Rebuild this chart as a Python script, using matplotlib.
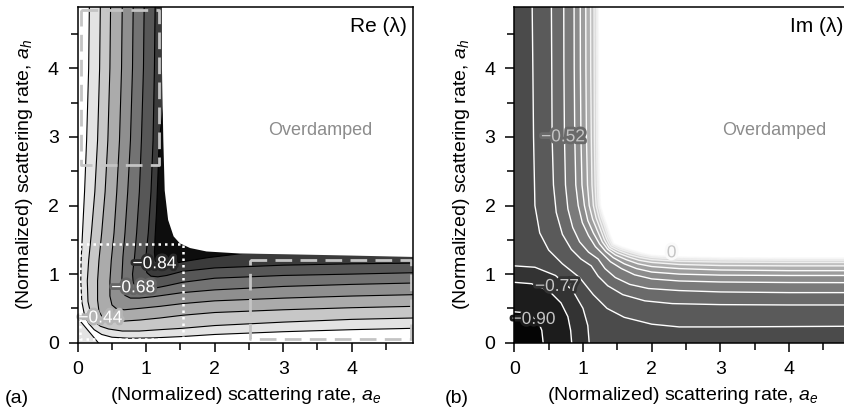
import matplotlib
matplotlib.use("Agg")
import matplotlib.pyplot as plt
import matplotlib.patheffects as pe

plt.rcParams['font.family'] = ['Liberation Sans', 'DejaVu Sans']
plt.rcParams['mathtext.fontset'] = 'custom'
plt.rcParams['mathtext.it'] = 'Liberation Sans:italic'
plt.rcParams['mathtext.rm'] = 'Liberation Sans'

XMAX = 4.9
YMAX = 4.9

# ---------------- Panel (a): Re(lambda) contour lines, points (a_e, a_h) ----------------
# levels of the lines below: -0.28, -0.36, -0.44, -0.52, -0.60, -0.68, -0.76, -0.84
re_band_colors = ['#ffffff', '#e3e3e3', '#c7c7c7', '#ababab', '#8f8f8f', '#737373',
                  '#575757', '#3b3b3b', '#0d0d0d']
re_corner_x = [0.0, 0.10, 0.20, 0.30]
re_corner_y = [0.36, 0.24, 0.12, 0.0]
re_lines = [
    ([0.17, 0.16, 0.13, 0.10, 0.07, 0.05, 0.045, 0.06, 0.10, 0.16, 0.24, 0.35, 0.50, 0.75, 1.10, 1.53, 2.0, 3.0, 4.0, 4.9],
     [4.9, 4.0, 2.95, 2.2, 1.6, 1.2, 0.9, 0.6, 0.40, 0.28, 0.19, 0.12, 0.08, 0.065, 0.07, 0.09, 0.12, 0.16, 0.19, 0.21]),
    ([0.33, 0.32, 0.29, 0.25, 0.20, 0.16, 0.14, 0.15, 0.19, 0.25, 0.33, 0.45, 0.65, 0.90, 1.20, 1.53, 2.0, 3.0, 4.0, 4.9],
     [4.9, 4.0, 2.95, 2.2, 1.6, 1.2, 0.9, 0.6, 0.42, 0.31, 0.24, 0.20, 0.17, 0.17, 0.19, 0.21, 0.25, 0.30, 0.34, 0.36]),
    ([0.48, 0.47, 0.44, 0.40, 0.35, 0.31, 0.29, 0.29, 0.31, 0.36, 0.45, 0.60, 0.90, 1.20, 1.53, 2.0, 3.0, 4.0, 4.9],
     [4.9, 4.0, 2.95, 2.2, 1.6, 1.2, 0.9, 0.62, 0.46, 0.37, 0.33, 0.31, 0.33, 0.36, 0.40, 0.44, 0.48, 0.51, 0.53]),
    ([0.65, 0.64, 0.61, 0.57, 0.53, 0.49, 0.47, 0.47, 0.50, 0.56, 0.68, 0.90, 1.20, 1.53, 2.0, 3.0, 4.0, 4.9],
     [4.9, 4.0, 2.95, 2.2, 1.6, 1.2, 0.9, 0.68, 0.55, 0.50, 0.48, 0.50, 0.53, 0.57, 0.61, 0.65, 0.68, 0.70]),
    ([0.81, 0.80, 0.77, 0.73, 0.69, 0.66, 0.645, 0.65, 0.69, 0.77, 0.90, 1.10, 1.53, 2.0, 3.0, 4.0, 4.9],
     [4.9, 4.0, 2.95, 2.2, 1.6, 1.25, 0.95, 0.78, 0.69, 0.65, 0.65, 0.67, 0.73, 0.77, 0.82, 0.85, 0.87]),
    ([0.97, 0.96, 0.93, 0.90, 0.86, 0.83, 0.80, 0.81, 0.85, 0.93, 1.10, 1.30, 1.53, 2.0, 3.0, 4.0, 4.9],
     [4.9, 4.0, 2.95, 2.2, 1.6, 1.25, 1.0, 0.88, 0.81, 0.78, 0.79, 0.83, 0.88, 0.94, 0.98, 1.0, 1.02]),
    ([1.13, 1.12, 1.10, 1.07, 1.03, 1.0, 0.99, 1.01, 1.07, 1.17, 1.30, 1.53, 2.0, 3.0, 4.0, 4.9],
     [4.9, 4.0, 2.95, 2.2, 1.6, 1.3, 1.12, 1.02, 0.97, 0.96, 0.98, 1.04, 1.09, 1.13, 1.15, 1.16]),
    ([1.30, 1.26, 1.19, 1.17, 1.15, 1.13, 1.12, 1.13, 1.18, 1.27, 1.40, 1.53, 1.9, 2.4, 3.0, 4.9],
     [4.9, 3.5, 2.95, 2.4, 1.9, 1.55, 1.32, 1.2, 1.14, 1.13, 1.15, 1.18, 1.24, 1.30, 1.32, 1.32]),
]
re_boundary_x = [1.23, 1.23, 1.25, 1.27, 1.32, 1.40, 1.49, 1.64, 1.88, 2.37, 3.0, 4.0, 4.9]
re_boundary_y = [4.9, 4.0, 2.95, 2.22, 1.79, 1.55, 1.45, 1.38, 1.33, 1.30, 1.29, 1.27, 1.25]
re_labels = ['\u22120.84', '\u22120.68', '\u22120.44']
re_label_x = [1.12, 0.81, 0.33]
re_label_y = [1.15, 0.80, 0.36]
re_label_halo = ['#2a2a2a', '#656565', '#b5b5b5']

# ---------------- Panel (b): Im(lambda) contour lines ----------------
im_origin_colors = ['#050505', '#1c1c1c', '#333333']
im_band_colors = ['#4b4b4b', '#5a5a5a', '#6a6a6a', '#7b7b7b', '#8c8c8c', '#9d9d9d', '#afafaf',
                  '#c0c0c0', '#d2d2d2', '#e3e3e3', '#f2f2f2', '#fafafa', '#ffffff']
im_origin_lines = [
    ([0.0, 0.12, 0.25, 0.35, 0.40, 0.42], [0.45, 0.44, 0.39, 0.30, 0.18, 0.0]),
    ([0.0, 0.25, 0.50, 0.68, 0.78, 0.82, 0.835], [0.88, 0.86, 0.76, 0.58, 0.38, 0.18, 0.0]),
    ([0.0, 0.30, 0.60, 0.85, 1.00, 1.07, 1.09], [1.12, 1.10, 0.98, 0.76, 0.50, 0.25, 0.0]),
]
im_lines = [
    ([0.26, 0.27, 0.28, 0.30, 0.37, 0.50, 0.70, 0.95, 1.15, 1.35, 1.60, 2.0, 2.4, 3.0, 4.0, 4.9],
     [4.9, 4.0, 3.0, 2.0, 1.60, 1.35, 1.15, 0.95, 0.70, 0.50, 0.37, 0.27, 0.23, 0.23, 0.235, 0.24]),
    ([0.54, 0.545, 0.55, 0.57, 0.61, 0.70, 0.83, 0.97, 1.12, 1.22, 1.36, 1.58, 1.9, 2.3, 3.0, 4.0, 4.9],
     [4.9, 4.0, 3.0, 2.3, 1.9, 1.58, 1.36, 1.22, 1.12, 0.97, 0.83, 0.70, 0.61, 0.57, 0.555, 0.55, 0.55]),
    ([0.72, 0.722, 0.73, 0.745, 0.78, 0.85, 0.95, 1.08, 1.22, 1.32, 1.47, 1.68, 1.95, 2.4, 3.0, 4.0, 4.9],
     [4.9, 4.0, 3.0, 2.3, 1.95, 1.68, 1.47, 1.32, 1.22, 1.08, 0.95, 0.85, 0.79, 0.76, 0.74, 0.73, 0.73]),
    ([0.87, 0.872, 0.88, 0.895, 0.93, 0.99, 1.08, 1.18, 1.29, 1.40, 1.56, 1.75, 2.0, 2.4, 3.0, 4.0, 4.9],
     [4.9, 4.0, 3.0, 2.3, 2.0, 1.75, 1.56, 1.40, 1.29, 1.18, 1.08, 0.99, 0.93, 0.90, 0.885, 0.877, 0.875]),
    ([0.96, 0.962, 0.97, 0.985, 1.02, 1.07, 1.15, 1.24, 1.33, 1.44, 1.60, 1.78, 2.0, 2.4, 3.0, 4.0, 4.9],
     [4.9, 4.0, 3.0, 2.3, 2.0, 1.78, 1.60, 1.44, 1.33, 1.24, 1.15, 1.08, 1.03, 1.0, 0.985, 0.98, 0.98]),
    ([1.04, 1.042, 1.05, 1.065, 1.09, 1.14, 1.21, 1.28, 1.36, 1.47, 1.63, 1.80, 2.0, 2.4, 3.0, 4.0, 4.9],
     [4.9, 4.0, 3.0, 2.3, 2.0, 1.80, 1.63, 1.47, 1.36, 1.28, 1.21, 1.15, 1.11, 1.08, 1.06, 1.05, 1.05]),
    ([1.11, 1.112, 1.12, 1.13, 1.15, 1.19, 1.25, 1.31, 1.38, 1.50, 1.66, 1.82, 2.0, 2.4, 3.0, 4.0, 4.9],
     [4.9, 4.0, 3.0, 2.3, 2.0, 1.82, 1.66, 1.50, 1.38, 1.31, 1.25, 1.20, 1.17, 1.14, 1.125, 1.12, 1.12]),
    ([1.16, 1.162, 1.165, 1.175, 1.19, 1.23, 1.28, 1.34, 1.40, 1.52, 1.68, 1.83, 2.0, 2.4, 3.0, 4.0, 4.9],
     [4.9, 4.0, 3.0, 2.3, 2.0, 1.83, 1.68, 1.52, 1.40, 1.34, 1.28, 1.24, 1.21, 1.185, 1.175, 1.17, 1.17]),
    ([1.19, 1.192, 1.195, 1.205, 1.22, 1.26, 1.31, 1.36, 1.42, 1.54, 1.70, 1.84, 2.0, 2.4, 3.0, 4.0, 4.9],
     [4.9, 4.0, 3.0, 2.3, 2.0, 1.84, 1.70, 1.54, 1.42, 1.36, 1.31, 1.27, 1.24, 1.215, 1.205, 1.20, 1.20]),
    ([1.21, 1.212, 1.215, 1.225, 1.24, 1.28, 1.33, 1.38, 1.435, 1.555, 1.71, 1.85, 2.0, 2.4, 3.0, 4.0, 4.9],
     [4.9, 4.0, 3.0, 2.3, 2.0, 1.85, 1.71, 1.555, 1.435, 1.38, 1.33, 1.29, 1.26, 1.235, 1.225, 1.22, 1.22]),
    ([1.225, 1.227, 1.23, 1.24, 1.255, 1.295, 1.345, 1.395, 1.445, 1.565, 1.72, 1.86, 2.0, 2.4, 3.0, 4.0, 4.9],
     [4.9, 4.0, 3.0, 2.3, 2.0, 1.86, 1.72, 1.565, 1.445, 1.395, 1.345, 1.305, 1.275, 1.25, 1.24, 1.235, 1.235]),
    ([1.235, 1.237, 1.24, 1.25, 1.265, 1.305, 1.355, 1.405, 1.455, 1.57, 1.725, 1.865, 2.0, 2.4, 3.0, 4.0, 4.9],
     [4.9, 4.0, 3.0, 2.3, 2.0, 1.865, 1.725, 1.57, 1.455, 1.405, 1.355, 1.315, 1.285, 1.26, 1.25, 1.245, 1.245]),
]
im_line_alpha = [1, 1, 1, 1, 1, 0.95, 0.85, 0.7, 0.5, 0.35, 0.25, 0.15]
im_labels = ['\u22120.90', '\u22120.77', '\u22120.52', '0']
im_label_x = [0.28, 0.62, 0.71, 2.29]
im_label_y = [0.34, 0.82, 3.0, 1.31]
im_label_halo = ['#1c1c1c', '#333333', '#6a6a6a', '#fafafa']

FS = 14
fig = plt.figure(figsize=(8.44, 4.15), dpi=100)
axL = fig.add_axes([77.7 / 844, 1 - 342.7 / 415, 4.9 * 68.5 / 844, 4.9 * 68.6 / 415])
axR = fig.add_axes([514.3 / 844, 1 - 342.7 / 415, 4.9 * 68.7 / 844, 4.9 * 68.6 / 415])


def region_above(xs, ys):
    px = list(xs) + [XMAX + 1, XMAX + 1, xs[0]]
    py = list(ys) + [ys[-1], YMAX + 1, YMAX + 1]
    return px, py


# ---- panel a
ax = axL
ax.fill([0, XMAX, XMAX, 0], [0, 0, YMAX, YMAX], color=re_band_colors[0], lw=0, zorder=0)
for i, (xs, ys) in enumerate(re_lines):
    px, py = region_above(xs, ys)
    ax.fill(px, py, color=re_band_colors[i + 1], lw=0, zorder=1 + i)
ax.fill([0] + re_corner_x + [0], [0] + re_corner_y + [0], color=re_band_colors[1], lw=0, zorder=12)
for xs, ys in re_lines:
    ax.plot(xs, ys, color='black', lw=0.8, zorder=20)
ax.plot(re_corner_x, re_corner_y, color='black', lw=0.8, zorder=20)
px, py = region_above(re_boundary_x, re_boundary_y)
ax.fill(px, py, color='white', lw=0, zorder=21)

# annotation boxes
ax.plot([0.05, 1.19, 1.19, 0.05, 0.05], [4.85, 4.85, 2.59, 2.59, 4.85], color='#c4c4c4',
        lw=2.0, ls=(0, (6, 3)), zorder=30)
ax.plot([2.51, 4.86, 4.86, 2.51, 2.51], [1.21, 1.21, 0.06, 0.06, 1.21], color='#c4c4c4',
        lw=2.0, ls=(0, (6, 3)), zorder=30)
ax.plot([0.03, 1.53, 1.53, 0.03, 0.03], [1.44, 1.44, 0.05, 0.05, 1.44], color='white',
        lw=1.8, ls=(0, (1, 1.6)), zorder=30)

for txt, x, y, c in zip(re_labels, re_label_x, re_label_y, re_label_halo):
    ax.text(x, y, txt, color='white', fontsize=12.5, ha='center', va='center', zorder=25,
            path_effects=[pe.withStroke(linewidth=4, foreground=c)])
ax.text(4.81, 4.61, 'Re (\u03bb)', fontsize=15, ha='right', va='center', zorder=40)
ax.text(3.545, 3.10, 'Overdamped', fontsize=13, ha='center', va='center', color='#8c8c8c', zorder=40)

# ---- panel b
ax = axR
ax.fill([0, XMAX, XMAX, 0], [0, 0, YMAX, YMAX], color=im_band_colors[0], lw=0, zorder=0)
for i, (xs, ys) in enumerate(im_lines):
    px, py = region_above(xs, ys)
    ax.fill(px, py, color=im_band_colors[i + 1], lw=0, zorder=1 + i)
for j in (2, 1, 0):
    xs, ys = im_origin_lines[j]
    ax.fill([0] + xs + [0], [0] + ys + [0], color=im_origin_colors[j], lw=0, zorder=15 + (2 - j))
for (xs, ys), a in zip(im_lines, im_line_alpha):
    ax.plot(xs, ys, color='white', lw=1.0, alpha=a, zorder=20)
for xs, ys in im_origin_lines:
    ax.plot(xs, ys, color='white', lw=1.0, zorder=20)
for txt, x, y, c in zip(im_labels, im_label_x, im_label_y, im_label_halo):
    ax.text(x, y, txt, color='#c4c4c4', fontsize=12.5, ha='center', va='center', zorder=25,
            path_effects=[pe.withStroke(linewidth=4, foreground=c)])
ax.text(3.785, 3.10, 'Overdamped', fontsize=13, ha='center', va='center', color='#8c8c8c', zorder=40)
fig.text(843 / 844, 1 - 26.5 / 415, 'Im (\u03bb)', fontsize=15, ha='right', va='center', zorder=40)

for ax in (axL, axR):
    ax.set_xlim(0, XMAX)
    ax.set_ylim(0, YMAX)
    ax.set_xticks([0, 1, 2, 3, 4])
    ax.set_yticks([0, 1, 2, 3, 4])
    ax.set_xticks([0.5, 1.5, 2.5, 3.5, 4.5], minor=True)
    ax.set_yticks([0.5, 1.5, 2.5, 3.5, 4.5], minor=True)
    ax.tick_params(which='major', direction='out', length=6.5, width=1.1, labelsize=FS, pad=7)
    ax.tick_params(which='minor', direction='out', length=4.8, width=1.1)
    ax.set_xlabel('(Normalized) scattering rate, $a_e$', fontsize=FS, labelpad=5)
    ax.set_ylabel('(Normalized) scattering rate, $a_h$', fontsize=FS, labelpad=9)
    for s in ax.spines.values():
        s.set_linewidth(1.1)
        s.set_zorder(50)

fig.text(5 / 844, 1 - 398 / 415, '(a)', fontsize=FS, va='center')
fig.text(445 / 844, 1 - 398 / 415, '(b)', fontsize=FS, va='center')

fig.savefig('out.png', dpi=100)
